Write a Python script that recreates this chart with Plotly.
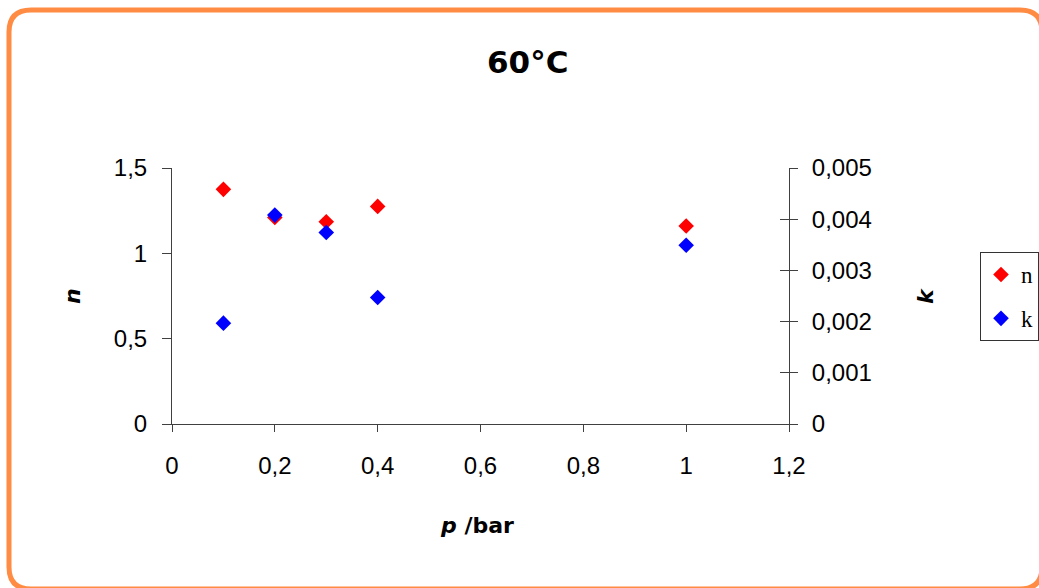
import plotly.graph_objects as go

# Pressure (bar) and fitted parameters at 60 °C
pressure = [0.1, 0.2, 0.3, 0.4, 1.0]
n_values = [1.375, 1.21, 1.185, 1.275, 1.16]
k_values = [0.00197, 0.00408, 0.00374, 0.00247, 0.00349]

series_names = ["n", "k"]
series_colors = ["#FF0000", "#0000FF"]

title_text = "<b>60°C</b>"
x_title = "<b><i>p</i> /bar</b>"
left_title = "<b><i>n</i></b>"
right_title = "<b><i>k</i></b>"

# plot-area geometry in pixels
W, H = 1039, 588
L, R, T, B = 172, 789, 168, 424


def px(x):
    return (x - L) / (R - L)


def py(y):
    return (B - y) / (B - T)


fig = go.Figure()
fig.add_trace(go.Scatter(
    x=pressure, y=n_values, mode="markers", name=series_names[0],
    legendgroup="a",
    marker=dict(symbol="diamond", size=12, color=series_colors[0]),
    yaxis="y"))
fig.add_trace(go.Scatter(
    x=pressure, y=k_values, mode="markers", name=series_names[1],
    legendgroup="b",
    marker=dict(symbol="diamond", size=12, color=series_colors[1]),
    yaxis="y2"))

tick_font = dict(family="Liberation Sans, Arial", size=24, color="#000")
axis_color = "#404040"
title_font = dict(family="Comic Sans MS, DejaVu Sans", color="#000")

# rounded orange frame around the whole chart
x0, y0, x1, y1, r = 9, 10, 1042, 589, 22
frame = (
    f"M {px(x0)},{py(y0 + r)} "
    f"Q {px(x0)},{py(y0)} {px(x0 + r)},{py(y0)} "
    f"L {px(x1 - r)},{py(y0)} "
    f"Q {px(x1)},{py(y0)} {px(x1)},{py(y0 + r)} "
    f"L {px(x1)},{py(y1 - r)} "
    f"Q {px(x1)},{py(y1)} {px(x1 - r)},{py(y1)} "
    f"L {px(x0 + r)},{py(y1)} "
    f"Q {px(x0)},{py(y1)} {px(x0)},{py(y1 - r)} Z"
)


def label(text, x, y, size, angle=0):
    return dict(text=text, x=px(x), y=py(y), xref="paper", yref="paper",
                xanchor="center", yanchor="middle", showarrow=False,
                textangle=angle, font=dict(size=size, **title_font))


fig.update_layout(
    width=W, height=H,
    margin=dict(l=L, r=W - R, t=T, b=H - B, pad=0, autoexpand=False),
    paper_bgcolor="white", plot_bgcolor="white",
    separators=", ",
    showlegend=True,
    xaxis=dict(
        range=[0, 1.2], dtick=0.2, tick0=0,
        showgrid=False, zeroline=False,
        showline=True, linecolor=axis_color, linewidth=1,
        ticks="outside", ticklen=7, tickcolor=axis_color,
        tickfont=tick_font, ticklabelstandoff=13),
    yaxis=dict(
        range=[0, 1.5], dtick=0.5, tick0=0,
        showgrid=False, zeroline=False,
        showline=True, linecolor=axis_color, linewidth=1,
        ticks="outside", ticklen=9, tickcolor=axis_color,
        tickfont=tick_font, ticklabelstandoff=10),
    yaxis2=dict(
        range=[0, 0.005], dtick=0.001, tick0=0,
        overlaying="y", side="right", anchor="x",
        showgrid=False, zeroline=False,
        showline=True, linecolor=axis_color, linewidth=1,
        ticks="outside", ticklen=8, tickcolor=axis_color,
        tickfont=tick_font, ticklabelstandoff=9),
    yaxis3=dict(
        range=[0, 0.005], dtick=0.001, tick0=0,
        overlaying="y", side="right", anchor="x",
        showgrid=False, zeroline=False, showline=False,
        ticks="inside", ticklen=9, tickcolor=axis_color,
        showticklabels=False),
    legend=dict(
        x=px(980), y=py(252), xanchor="left", yanchor="top",
        bordercolor="#333", borderwidth=1, bgcolor="white",
        font=dict(family="Liberation Serif, Times New Roman", size=23, color="#000"),
        traceorder="grouped", tracegroupgap=11, itemwidth=30),
    shapes=[dict(type="path", xref="paper", yref="paper", path=frame,
                 line=dict(color="#FF8C42", width=5), fillcolor="rgba(0,0,0,0)")],
    annotations=[
        label(title_text, 527, 62, 31),
        label(x_title, 477, 525, 22),
        label(left_title, 72, 296, 22, -90),
        label(right_title, 925, 296, 22, -90),
    ],
)

# empty trace so the cross-tick overlay axis is rendered
fig.add_trace(go.Scatter(x=[], y=[], yaxis="y3", showlegend=False, hoverinfo="skip"))

fig.write_html("out.html")
